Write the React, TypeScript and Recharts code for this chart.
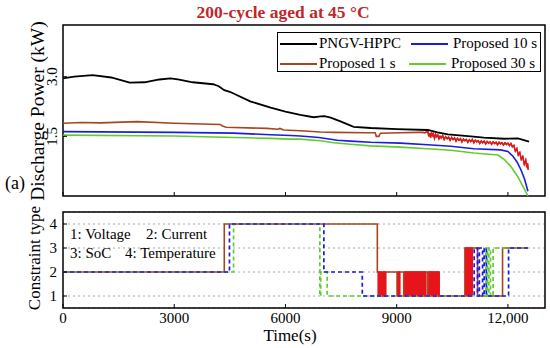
import React from "react";
import { LineChart, Line, XAxis, YAxis, CartesianGrid, ReferenceArea } from "recharts";

const FONT = '"Liberation Serif", "Times New Roman", serif';

// x axis (time, s)
const timeTicks = [0, 3000, 6000, 9000, 12000];
const powerTicks = [0, 1.5, 3.0];
const typeTicks = [1, 2, 3, 4];

// ---- discharge power (kW) ----
const hppcTime = [0, 300, 800, 1300, 1800, 2200, 2600, 2900, 3100, 3500, 4050, 4200, 4350, 4500, 5050, 5600, 6000, 6400, 6760, 6950, 7050, 7220, 7500, 7840, 8300, 9000, 9840, 10100, 10380, 11000, 11350, 11900, 12270, 12570];
const hppcPower = [2.96, 3.0, 3.04, 2.98, 2.85, 2.86, 2.93, 2.96, 2.93, 2.86, 2.81, 2.76, 2.66, 2.62, 2.38, 2.22, 2.12, 2.04, 1.98, 2.0, 2.01, 1.97, 1.87, 1.74, 1.71, 1.68, 1.66, 1.6, 1.55, 1.5, 1.47, 1.44, 1.45, 1.37];

const p1Time = [0, 500, 1000, 2000, 3000, 4240, 4300, 4400, 5500, 5800, 5850, 5950, 6400, 6950, 7300, 8200, 8420, 8450, 8520, 8560, 9100, 9600];
const p1Power = [1.83, 1.85, 1.84, 1.87, 1.83, 1.8, 1.76, 1.73, 1.7, 1.68, 1.7, 1.66, 1.64, 1.61, 1.6, 1.59, 1.59, 1.5, 1.5, 1.58, 1.59, 1.6];
const p1NoiseTime = [9700, 9760, 9800, 9840, 9865, 9890, 9915, 9940, 9965, 9990, 10020, 10050, 10080, 10110, 10140, 10170, 10200, 10240, 10280, 10320, 10360, 10400, 10440, 10480, 10520, 10560, 10600, 10640, 10680, 10720, 10760, 10800, 10840, 10880, 10920, 10960, 11000, 11040, 11080, 11120, 11160, 11200, 11240, 11280, 11320, 11360, 11400, 11440, 11480, 11520, 11560, 11600, 11640, 11680, 11720, 11760, 11800, 11840, 11880, 11920, 11960, 12000, 12040, 12080, 12120, 12160, 12200, 12240, 12280, 12320, 12360, 12400, 12440, 12480, 12510, 12530, 12545];
const p1NoisePower = [1.6, 1.59, 1.61, 1.63, 1.5, 1.58, 1.47, 1.6, 1.52, 1.56, 1.45, 1.55, 1.49, 1.53, 1.44, 1.5, 1.46, 1.52, 1.42, 1.49, 1.44, 1.48, 1.4, 1.47, 1.42, 1.46, 1.38, 1.45, 1.4, 1.44, 1.36, 1.43, 1.39, 1.42, 1.35, 1.41, 1.37, 1.42, 1.34, 1.4, 1.36, 1.39, 1.32, 1.38, 1.34, 1.38, 1.31, 1.37, 1.33, 1.36, 1.3, 1.36, 1.32, 1.35, 1.29, 1.35, 1.31, 1.34, 1.28, 1.34, 1.3, 1.33, 1.27, 1.32, 1.24, 1.27, 1.13, 1.19, 1.03, 1.09, 0.92, 0.99, 0.8, 0.9, 0.72, 0.82, 0.66];

const p10Time = [0, 3000, 4600, 5600, 6135, 6400, 6900, 7400, 7750, 8300, 9100, 9840, 10460, 11080, 11800, 12000, 12135, 12250, 12350, 12450, 12540];
const p10Power = [1.62, 1.6, 1.58, 1.54, 1.52, 1.51, 1.47, 1.4, 1.38, 1.35, 1.33, 1.29, 1.25, 1.19, 1.16, 1.12, 1.0, 0.85, 0.66, 0.42, 0.12];

const p30Time = [0, 3000, 4600, 5600, 6135, 6400, 6950, 7300, 7750, 8300, 9100, 9840, 10460, 11080, 11730, 11900, 12080, 12270, 12430, 12540];
const p30Power = [1.53, 1.51, 1.47, 1.45, 1.43, 1.43, 1.39, 1.34, 1.3, 1.26, 1.23, 1.19, 1.15, 1.08, 1.03, 0.92, 0.74, 0.48, 0.2, 0.0];

// ---- constraint type (1 voltage, 2 current, 3 SoC, 4 temperature) ----
const c1Time = [0, 4350, 8478, 8600, 8613, 8690, 8703, 9010, 9018, 9190, 9198, 9775, 9784, 9840, 9847, 10145, 10840, 11180, 11855, 12540];
const c1Type = [2, 4, 2, 1, 2, 1, 2, 1, 2, 1, 2, 1, 2, 1, 2, 1, 3, 1, 3, 3];
// fast switching of the 1 s case (null = gap)
const c1FastTime = [8480, 8497, 8514, 8531, 8548, 8565, 8582, 8598, 8606, 8620, 8637, 8654, 8671, 8688, 8700, 8702,
  9020, 9038, 9055, 9072, 9088, 9090,
  9200, 9221, 9244, 9265, 9290, 9311, 9335, 9358, 9380, 9401, 9425, 9448, 9470, 9491, 9515, 9538, 9560, 9581, 9605, 9628, 9650, 9671, 9695, 9718, 9740, 9761, 9782, 9783,
  9850, 9871, 9893, 9914, 9940, 9963, 9985, 10007, 10030, 10054, 10078, 10099, 10122, 10143, 10144,
  10842, 10861, 10880, 10901, 10922, 10941, 10963, 10984, 11005, 11024, 11043, 11044];
const c1FastType = [1, 2, 1, 2, 1, 2, 1, 2, null, 1, 2, 1, 2, 1, 2, null,
  1, 2, 1, 2, 1, null,
  1, 2, 1, 2, 1, 2, 1, 2, 1, 2, 1, 2, 1, 2, 1, 2, 1, 2, 1, 2, 1, 2, 1, 2, 1, 2, 1, null,
  1, 2, 1, 2, 1, 2, 1, 2, 1, 2, 1, 2, 1, 2, null,
  1, 3, 1, 3, 1, 3, 1, 3, 1, 3, 1, null];

const c10Time = [0, 4490, 7036, 8072, 11090, 11180, 11230, 11316, 11360, 11420, 12018, 12540];
const c10Type = [2, 4, 2, 1, 3, 1, 3, 1, 3, 1, 3, 3];

const c30Time = [0, 4600, 6928, 6950, 7125, 11405, 11450, 11486, 11530, 11600, 12540];
const c30Type = [2, 4, 1, 2, 1, 3, 1, 3, 1, 3, 3];

const pts = (t: number[], v: (number | null)[]) => t.map((x, i) => ({ t: x, v: v[i] }));

const BROWN = "#a5461f";
const RED = "#e8141b";
const BLUE = "#1c1ce0";
const GREEN = "#5fcd2c";

const PowerTick = (p: any) => (
  <text x={57} y={p.y} transform={`rotate(-90 57 ${p.y})`} textAnchor="middle" fontSize={15} fontFamily={FONT} fill="#000">
    {Number(p.payload.value).toFixed(1)}
  </text>
);

const TypeTick = (p: any) => (
  <text x={57} y={p.y} dy="0.35em" textAnchor="end" fontSize={15} fontFamily={FONT} fill="#000">
    {p.payload.value}
  </text>
);

const TimeTick = (p: any) => (
  <text x={p.x} y={p.y} dy="0.6em" textAnchor="middle" fontSize={15} fontFamily={FONT} fill="#000">
    {p.payload.value === 12000 ? "12,000" : p.payload.value}
  </text>
);

const abs = (s: React.CSSProperties): React.CSSProperties => ({ position: "absolute", whiteSpace: "nowrap", ...s });

const legendItems = [
  { name: "PNGV-HPPC", color: "#000", left: 2, top: 11, tx: 41 },
  { name: "Proposed 10 s", color: BLUE, left: 133, top: 11, tx: 175 },
  { name: "Proposed 1 s", color: BROWN, left: 2, top: 31, tx: 41 },
  { name: "Proposed 30 s", color: GREEN, left: 131, top: 31, tx: 173 },
];

export default function App() {
  return (
    <div style={{ position: "absolute", left: 0, top: 0, width: 550, height: 348, background: "#fff", fontFamily: FONT, color: "#000" }}>
      <div style={abs({ left: 0, top: 0 })}>
        <LineChart width={550} height={200} margin={{ top: 25, right: 5, left: 0, bottom: 0 }}>
          <XAxis dataKey="t" type="number" domain={[0, 13000]} ticks={timeTicks} height={4} tick={() => <g />} axisLine={false} tickSize={-4} tickLine={{ stroke: "#000" }} allowDataOverflow />
          <YAxis type="number" domain={[0, 4.3]} ticks={powerTicks} width={63} axisLine={false} tickSize={-4} tickMargin={10} tickLine={{ stroke: "#000" }} tick={<PowerTick />} allowDataOverflow />
          <Line data={pts(p30Time, p30Power)} dataKey="v" stroke={GREEN} strokeWidth={1.6} dot={false} isAnimationActive={false} />
          <Line data={pts(p10Time, p10Power)} dataKey="v" stroke={BLUE} strokeWidth={1.6} dot={false} isAnimationActive={false} />
          <Line data={pts([...p1Time, ...p1NoiseTime], [...p1Power, ...p1NoisePower])} dataKey="v" stroke={BROWN} strokeWidth={1.6} dot={false} isAnimationActive={false} />
          <Line data={pts(p1NoiseTime, p1NoisePower)} dataKey="v" stroke={RED} strokeWidth={1.3} dot={false} isAnimationActive={false} />
          <Line data={pts(hppcTime, hppcPower)} dataKey="v" stroke="#000" strokeWidth={1.8} dot={false} isAnimationActive={false} />
          <ReferenceArea x1={0} x2={13000} y1={0} y2={4.3} fill="none" stroke="#000" strokeWidth={1.5} />
        </LineChart>
      </div>

      <div style={abs({ left: 0, top: 200 })}>
        <LineChart width={550} height={148} margin={{ top: 12, right: 5, left: 0, bottom: 0 }}>
          <CartesianGrid vertical={false} strokeDasharray="2 3" stroke="#aaa" />
          <XAxis dataKey="t" type="number" domain={[0, 13000]} ticks={timeTicks} height={40} axisLine={false} tickSize={-4} tickMargin={10} tickLine={{ stroke: "#000" }} tick={<TimeTick />} allowDataOverflow />
          <YAxis type="number" domain={[0.5, 4.5]} ticks={typeTicks} width={63} axisLine={false} tickSize={-4} tickMargin={10} tickLine={{ stroke: "#000" }} tick={<TypeTick />} allowDataOverflow />
          <Line data={pts(c1Time, c1Type)} dataKey="v" type="stepAfter" stroke={BROWN} strokeWidth={1.6} dot={false} isAnimationActive={false} />
          <Line data={pts(c1FastTime, c1FastType)} dataKey="v" type="stepAfter" stroke={RED} strokeWidth={1.3} dot={false} isAnimationActive={false} />
          <Line data={pts(c30Time, c30Type)} dataKey="v" type="stepAfter" stroke={GREEN} strokeWidth={1.7} strokeDasharray="4 3" dot={false} isAnimationActive={false} />
          <Line data={pts(c10Time, c10Type)} dataKey="v" type="stepAfter" stroke={BLUE} strokeWidth={1.7} strokeDasharray="4 3" dot={false} isAnimationActive={false} />
          <ReferenceArea x1={0} x2={13000} y1={0.5} y2={4.5} fill="none" stroke="#000" strokeWidth={1.5} />
        </LineChart>
      </div>

      {/* title and labels */}
      <div style={abs({ left: 133, top: 2, width: 300, textAlign: "center", fontWeight: "bold", fontSize: 17.5, lineHeight: "20px", color: "#c0282a" })}>
        200-cycle aged at 45 °C
      </div>
      <div style={abs({ left: 5, top: 173, fontSize: 18, lineHeight: "20px" })}>(a)</div>
      <div style={abs({ left: 38, top: 111, fontSize: 19.5, lineHeight: "22px", transform: "translate(-50%, -50%) rotate(-90deg)" })}>
        Discharge Power (kW)
      </div>
      <div style={abs({ left: 35, top: 258, fontSize: 17, lineHeight: "20px", transform: "translate(-50%, -50%) rotate(-90deg)" })}>
        Constraint type
      </div>
      <div style={abs({ left: 290, top: 336, fontSize: 17, lineHeight: "20px", transform: "translate(-50%, -50%)" })}>Time(s)</div>

      <div style={abs({ left: 70, top: 225, fontSize: 15, lineHeight: "18px" })}>1: Voltage</div>
      <div style={abs({ left: 146, top: 225, fontSize: 15, lineHeight: "18px" })}>2: Current</div>
      <div style={abs({ left: 70, top: 244, fontSize: 15, lineHeight: "18px" })}>3: SoC</div>
      <div style={abs({ left: 125, top: 244, fontSize: 15, lineHeight: "18px" })}>4: Temperature</div>

      {/* legend */}
      <div style={abs({ left: 277, top: 32, width: 264, height: 40, border: "1px solid #000", background: "#fff", boxSizing: "border-box" })}>
        {legendItems.map((it) => (
          <React.Fragment key={it.name}>
            <div style={abs({ left: it.left, top: it.top - 1, width: 37, height: 2, background: it.color })} />
            <div style={abs({ left: it.tx, top: it.top - 10, fontSize: 15, lineHeight: "18px" })}>{it.name}</div>
          </React.Fragment>
        ))}
      </div>
    </div>
  );
}
